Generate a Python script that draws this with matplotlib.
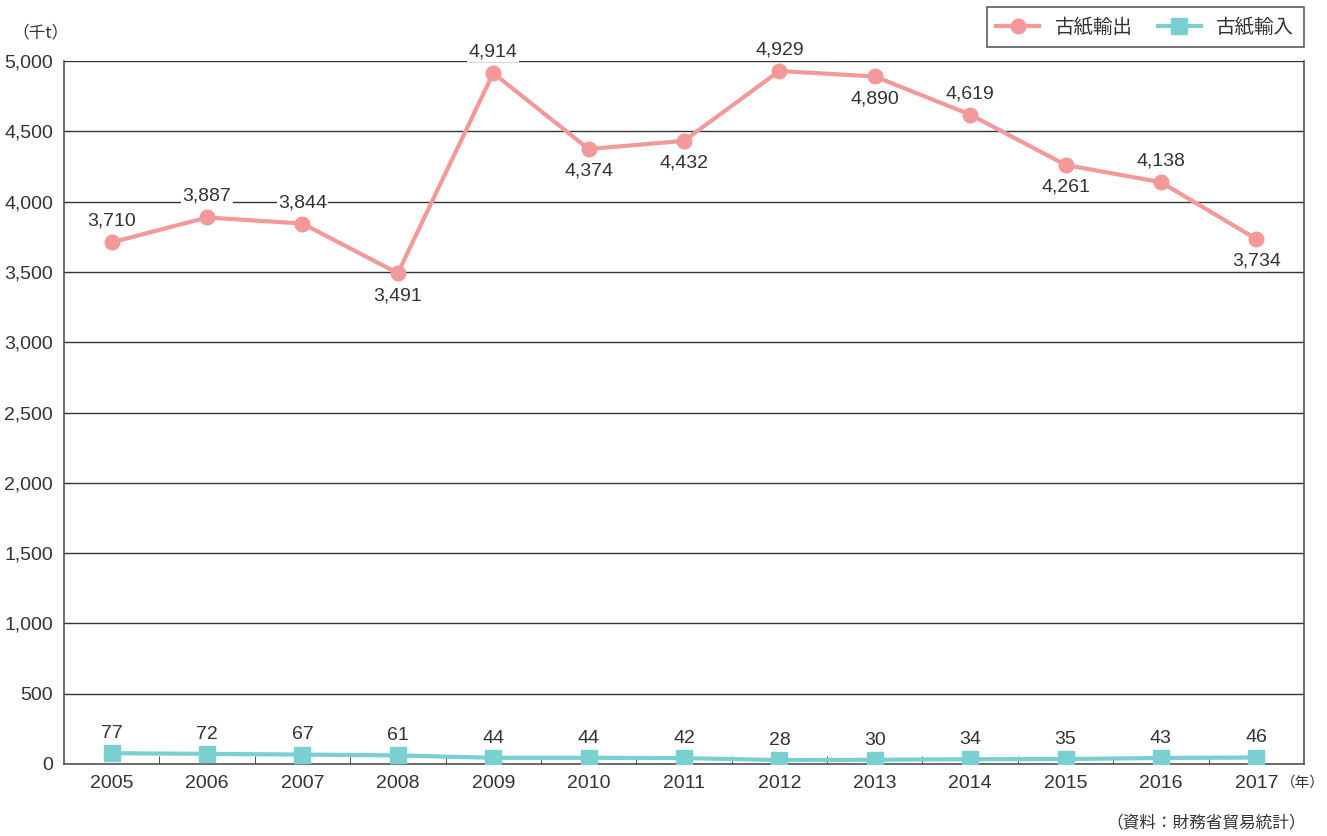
import matplotlib
matplotlib.use("Agg")
import matplotlib.pyplot as plt
import numpy as np

plt.rcParams['font.family'] = ['Liberation Sans Narrow', 'Liberation Sans', 'Noto Sans CJK JP', 'DejaVu Sans']

years = ["2005", "2006", "2007", "2008", "2009", "2010", "2011",
         "2012", "2013", "2014", "2015", "2016", "2017"]
export_vals = [3710, 3887, 3844, 3491, 4914, 4374, 4432, 4929, 4890, 4619, 4261, 4138, 3734]
import_vals = [77, 72, 67, 61, 44, 44, 42, 28, 30, 34, 35, 43, 46]
# ラベルを上に置くか下に置くか
export_above = [True, True, True, False, True, False, False, True, False, True, False, True, False]

pink = "#f4999a"
teal = "#7acfd0"
txt = "#333333"
cjk = ['Noto Sans CJK JP', 'DejaVu Sans']

fig = plt.figure(figsize=(13.27, 8.36), dpi=100)
ax = fig.add_axes([64/1327, 72/836, 1240/1327, 703/836])

x = np.arange(len(years)) + 0.5

ax.plot(x, export_vals, color=pink, lw=3, marker="o", ms=10.5, label="古紙輸出", zorder=4)
ax.plot(x, import_vals, color=teal, lw=3, marker="s", ms=11, label="古紙輸入", zorder=4)

for xi, v, up in zip(x, export_vals, export_above):
    if up:
        ax.annotate(f"{v:,}", (xi, v), xytext=(0, 9), textcoords="offset points",
                    ha="center", va="bottom", fontsize=14, color=txt,
                    bbox=dict(facecolor="white", edgecolor="none", pad=1), zorder=3)
    else:
        ax.annotate(f"{v:,}", (xi, v), xytext=(0, -10), textcoords="offset points",
                    ha="center", va="top", fontsize=14, color=txt,
                    bbox=dict(facecolor="white", edgecolor="none", pad=1), zorder=3)
for xi, v in zip(x, import_vals):
    ax.annotate(f"{v}", (xi, v), xytext=(0, 8), textcoords="offset points",
                ha="center", va="bottom", fontsize=14, color=txt, zorder=3)

ax.set_xlim(0, len(years))
ax.set_ylim(0, 5000)
ax.set_yticks(np.arange(0, 5001, 500))
ax.set_yticklabels([f"{v:,}" for v in range(0, 5001, 500)], fontsize=14, color=txt)
ax.yaxis.grid(True, color="#333333", lw=1)
ax.set_axisbelow(True)
ax.tick_params(axis="y", length=0, pad=8)

ax.set_xticks(x)
ax.set_xticklabels(years, fontsize=14, color=txt)
ax.set_xticks(np.arange(1, len(years)), minor=True)
ax.tick_params(axis="x", which="major", length=0, pad=8)
ax.tick_params(axis="x", which="minor", length=6, direction="in", color="#333333")

ax.spines["top"].set_visible(False)
for s in ["left", "right", "bottom"]:
    ax.spines[s].set_color("#555555")
    ax.spines[s].set_linewidth(1.2)

fig.text(12/1327, 1 - 33/836, "（千t）", fontsize=12, color=txt,
         family=cjk, va="center")
fig.text(1281/1327, 1 - 783/836, "（年）", fontsize=10.5, color=txt,
         family=cjk, va="center", ha="left")
fig.text(1306/1327, 1 - 823/836, "（資料：財務省貿易統計）", fontsize=12, color=txt,
         family=cjk, va="center", ha="right")

leg = ax.legend(loc="upper right", bbox_to_anchor=(1.0, 1.077), ncol=2, frameon=True,
                fancybox=False, edgecolor="#333333", handlelength=2.2,
                columnspacing=1.3, borderpad=0.5, borderaxespad=0,
                prop={'family': cjk, 'size': 14})
leg.get_frame().set_linewidth(1.2)
for t in leg.get_texts():
    t.set_color(txt)

fig.savefig("out.png", dpi=100)
